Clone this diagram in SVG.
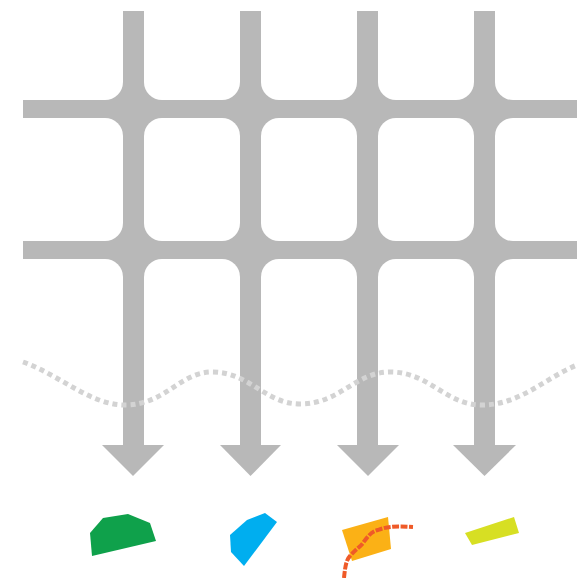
<svg xmlns="http://www.w3.org/2000/svg" width="577" height="578" viewBox="0 0 577 578">
  <style>
    .g{fill:#b8b8b8}
    .cell{fill:#ffffff}
    .wave{fill:none;stroke:#d3d3d3;stroke-width:5;stroke-dasharray:5 4}
  </style>
  <rect x="0" y="0" width="577" height="578" fill="#ffffff"/>
  <g id="grid">
    <rect class="g" x="23" y="11" width="554" height="320"/>
    <g class="cell">
      <rect x="-60" y="-60" width="183" height="160" rx="18"/>
      <rect x="144" y="-60" width="96" height="160" rx="18"/>
      <rect x="261" y="-60" width="96" height="160" rx="18"/>
      <rect x="378" y="-60" width="96" height="160" rx="18"/>
      <rect x="495" y="-60" width="160" height="160" rx="18"/>
      <rect x="-60" y="118" width="183" height="123" rx="18"/>
      <rect x="144" y="118" width="96" height="123" rx="18"/>
      <rect x="261" y="118" width="96" height="123" rx="18"/>
      <rect x="378" y="118" width="96" height="123" rx="18"/>
      <rect x="495" y="118" width="160" height="123" rx="18"/>
      <rect x="-60" y="259" width="183" height="400" rx="18"/>
      <rect x="144" y="259" width="96" height="400" rx="18"/>
      <rect x="261" y="259" width="96" height="400" rx="18"/>
      <rect x="378" y="259" width="96" height="400" rx="18"/>
      <rect x="495" y="259" width="160" height="400" rx="18"/>
    </g>
    <rect class="cell" x="0" y="100" width="23" height="160"/>
  </g>
  <g id="connectors" class="g">
    <rect x="123" y="11" width="21" height="436"/>
    <polygon points="102,445 164,445 133,476"/>
    <rect x="240" y="11" width="21" height="436"/>
    <polygon points="220,445 281,445 250.5,476"/>
    <rect x="357" y="11" width="21" height="436"/>
    <polygon points="337,445 399,445 368,476"/>
    <rect x="474" y="11" width="21" height="436"/>
    <polygon points="453,445 516,445 484.5,476"/>
  </g>
  <g id="wave">
    <path class="wave" d="M23,362 C60,375 90,405 125,405 C165,405 180,372 212,372 C250,372 265,404 300,404 C340,404 355,372 390,372 C430,372 445,405 482,405 C520,405 545,378 577,365"/>
  </g>
  <g id="green">
    <polygon fill="#0fa14b" points="90,533 103,518 128,514 150,523 156,541 92,556"/>
  </g>
  <g id="blue">
    <polygon fill="#00aeef" points="230,535 247,520 265,513 277,522 244,566 231,552"/>
  </g>
  <g id="orange">
    <polygon fill="#fbb116" points="342,530 388,517 391,549 352,561"/>
    <path d="M344,578 C345,568 346,560 350,556 C355,550 360,547 363,543 C368,536 372,531 378,530 C388,526 398,526 413,527" fill="none" stroke="#ef5a28" stroke-width="4" stroke-dasharray="7 1.5"/>
  </g>
  <g id="yellow">
    <polygon fill="#d7df23" points="465,533 514,517 519,533 472,545"/>
  </g>
</svg>
